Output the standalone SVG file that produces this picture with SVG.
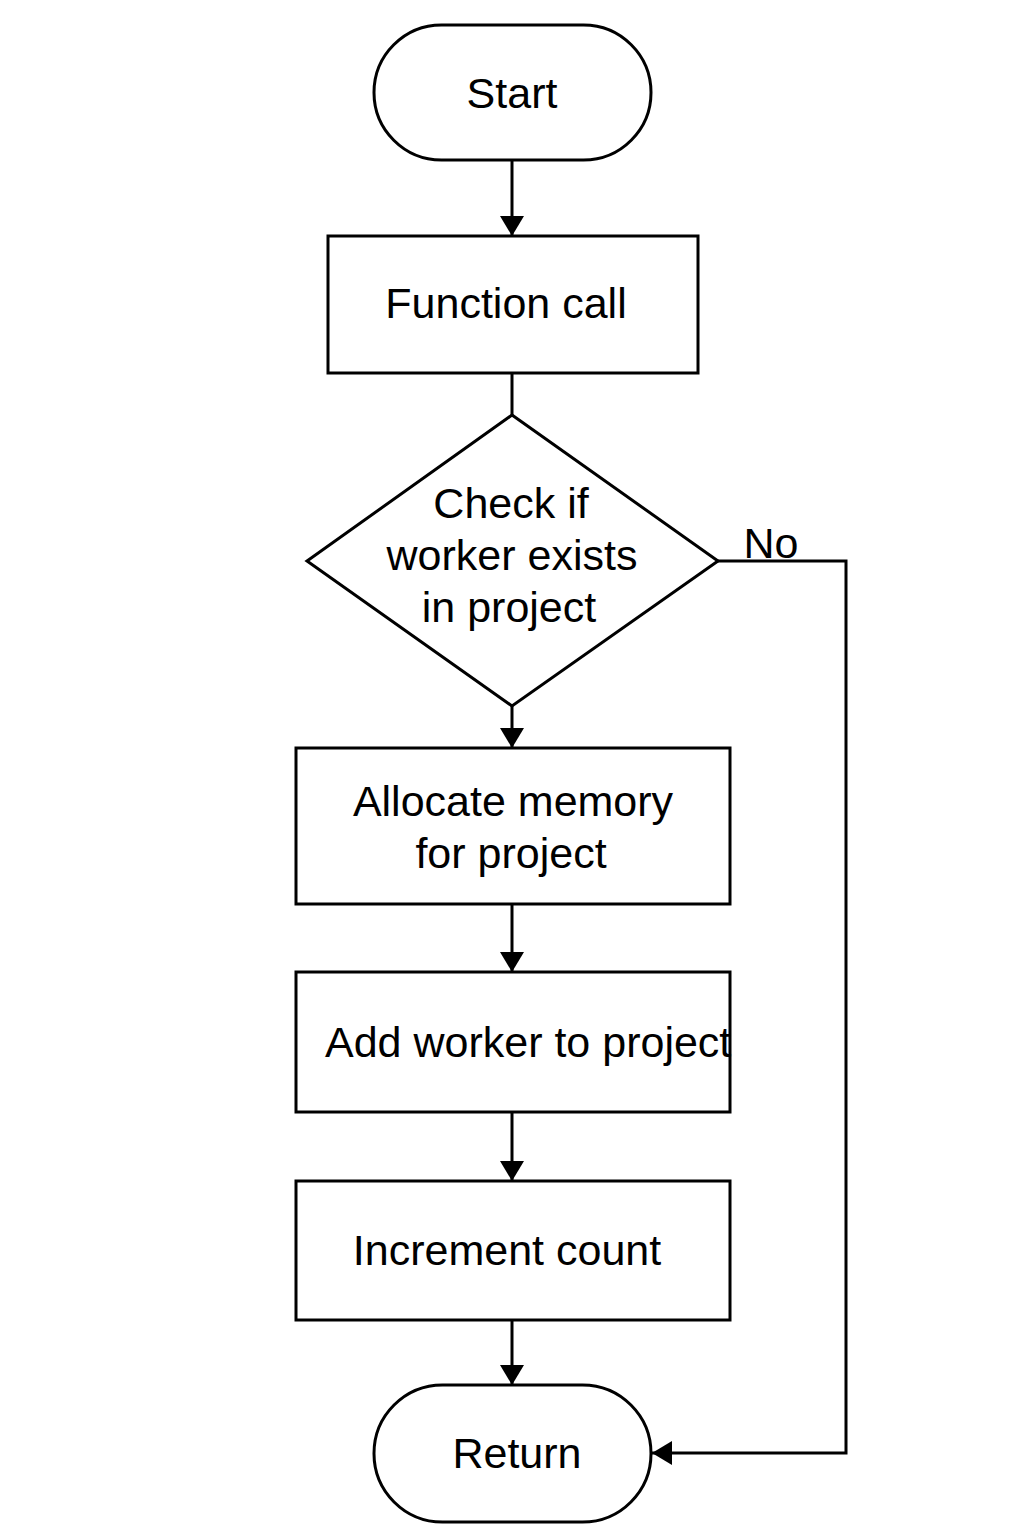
<svg xmlns="http://www.w3.org/2000/svg" width="1024" height="1536" viewBox="0 0 1024 1536">
<defs>
<style>
.s{fill:#fff;stroke:#000;stroke-width:3}
.t{font-family:"Liberation Sans",Arial,sans-serif;font-size:43px;fill:#000;text-anchor:middle}
.c{fill:none;stroke:#000;stroke-width:3}
</style>
<marker id="ah" viewBox="0 0 20 24" refX="20" refY="12" markerWidth="20" markerHeight="24" markerUnits="userSpaceOnUse" orient="auto">
<path d="M0,0 L20,12 L0,24 Z" fill="#000"/>
</marker>
</defs>
<rect width="1024" height="1536" fill="#fff"/>
<g id="connectors">
<path class="c" d="M512,160 V236" marker-end="url(#ah)"/>
<path class="c" d="M512,373 V415"/>
<path class="c" d="M512,706 V748" marker-end="url(#ah)"/>
<path class="c" d="M512,904 V972" marker-end="url(#ah)"/>
<path class="c" d="M512,1112 V1181" marker-end="url(#ah)"/>
<path class="c" d="M512,1320 V1385" marker-end="url(#ah)"/>
<path class="c" d="M718,561 H846 V1453 H652" marker-end="url(#ah)"/>
<text class="t" x="771" y="558">No</text>
</g>
<g id="start">
<rect class="s" x="374" y="25" width="277" height="135" rx="67.5"/>
<text class="t" x="512" y="108">Start</text>
</g>
<g id="function-call">
<rect class="s" x="328" y="236" width="370" height="137"/>
<text class="t" x="506" y="318">Function call</text>
</g>
<g id="check">
<polygon class="s" points="512,415 718,561 512,706 307,561"/>
<text class="t" x="511" y="518">Check if</text>
<text class="t" x="512" y="570">worker exists</text>
<text class="t" x="509" y="622">in project</text>
</g>
<g id="allocate">
<rect class="s" x="296" y="748" width="434" height="156"/>
<text class="t" x="513" y="816">Allocate memory</text>
<text class="t" x="511" y="868">for project</text>
</g>
<g id="add-worker">
<rect class="s" x="296" y="972" width="434" height="140"/>
<text class="t" x="325" y="1057" style="text-anchor:start">Add worker to project</text>
</g>
<g id="increment">
<rect class="s" x="296" y="1181" width="434" height="139"/>
<text class="t" x="507" y="1265">Increment count</text>
</g>
<g id="return">
<rect class="s" x="374" y="1385" width="277" height="137" rx="68.5"/>
<text class="t" x="517" y="1468">Return</text>
</g>
</svg>
